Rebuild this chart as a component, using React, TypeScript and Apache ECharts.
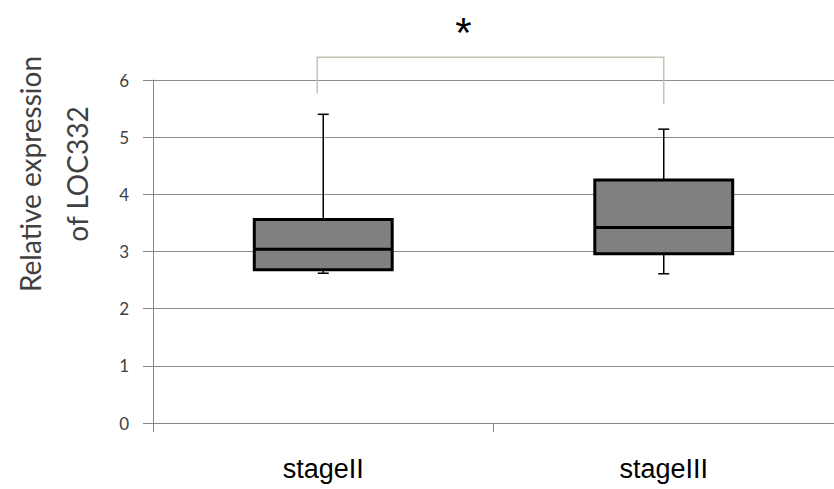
import React, { useEffect, useRef } from "react";
import * as echarts from "echarts";

const categories = ["stageII", "stageIII"];
// [min, Q1, median, Q3, max]
const boxValues = [
  [2.62, 2.68, 3.04, 3.56, 5.4],
  [2.61, 2.96, 3.42, 4.25, 5.14],
];
const yTicks = [0, 1, 2, 3, 4, 5, 6];
const yTitle = "Relative expression\nof LOC332";
const sigLabel = "*";
// significance bracket: top value, left leg bottom, right leg bottom
const bracketTop = 6.4;
const bracketLeftBottom = 5.77;
const bracketRightBottom = 5.58;

export default function App() {
  const ref = useRef<HTMLDivElement>(null);
  useEffect(() => {
    if (!ref.current) return;
    const chart = echarts.init(ref.current, null, { renderer: "svg" });
    const data = boxValues.map((b, i) => [i, ...b]);
    chart.setOption({
      animation: false,
      backgroundColor: "#ffffff",
      grid: { left: 153, right: 0, top: 80, bottom: 66, containLabel: false },
      xAxis: {
        type: "category",
        data: categories,
        boundaryGap: true,
        axisLine: { show: true, lineStyle: { color: "#868686", width: 1 } },
        axisTick: { show: true, length: 9, lineStyle: { color: "#868686" } },
        axisLabel: {
          margin: 32,
          fontSize: 27,
          color: "#000000",
          fontFamily: "Liberation Sans, Arial, sans-serif",
        },
        splitLine: { show: false },
      },
      yAxis: {
        type: "value",
        min: yTicks[0],
        max: yTicks[yTicks.length - 1],
        interval: 1,
        axisLine: { show: true, lineStyle: { color: "#868686", width: 1 } },
        axisTick: { show: true, length: 10, lineStyle: { color: "#868686" } },
        axisLabel: {
          margin: 24,
          fontSize: 17,
          color: "#404040",
          fontFamily: "Lato, sans-serif",
        },
        splitLine: { show: true, lineStyle: { color: "#8c8c8c", width: 1 } },
      },
      series: [
        {
          type: "custom",
          data,
          clip: false,
          renderItem: (params: any, api: any) => {
            const idx = api.value(0);
            const vals = [1, 2, 3, 4, 5].map((d) => api.value(d));
            const band = api.size([1, 0])[0];
            const bw = band * 0.405;
            const capW = 11;
            const [cx, yMin] = api.coord([idx, vals[0]]);
            const yQ1 = api.coord([idx, vals[1]])[1];
            const yMed = api.coord([idx, vals[2]])[1];
            const yQ3 = api.coord([idx, vals[3]])[1];
            const yMax = api.coord([idx, vals[4]])[1];
            const thin = { stroke: "#000000", lineWidth: 1.5 };
            return {
              type: "group",
              children: [
                { type: "line", shape: { x1: cx, y1: yMax, x2: cx, y2: yQ3 }, style: thin },
                { type: "line", shape: { x1: cx, y1: yQ1, x2: cx, y2: yMin }, style: thin },
                { type: "line", shape: { x1: cx - capW / 2, y1: yMax, x2: cx + capW / 2, y2: yMax }, style: thin },
                { type: "line", shape: { x1: cx - capW / 2, y1: yMin, x2: cx + capW / 2, y2: yMin }, style: thin },
                {
                  type: "rect",
                  shape: { x: cx - bw / 2, y: yQ3, width: bw, height: yQ1 - yQ3 },
                  style: { fill: "#808080", stroke: "#000000", lineWidth: 3 },
                },
                {
                  type: "line",
                  shape: { x1: cx - bw / 2, y1: yMed, x2: cx + bw / 2, y2: yMed },
                  style: { stroke: "#000000", lineWidth: 3 },
                },
              ],
            };
          },
        },
      ],
    });

    const pTopL = chart.convertToPixel({ gridIndex: 0 }, [0, bracketTop]);
    const pTopR = chart.convertToPixel({ gridIndex: 0 }, [1, bracketTop]);
    const pBotL = chart.convertToPixel({ gridIndex: 0 }, [0, bracketLeftBottom]);
    const pBotR = chart.convertToPixel({ gridIndex: 0 }, [1, bracketRightBottom]);
    const xl = pTopL[0] - 6;
    const xr = pTopR[0];
    const bracketStyle = { stroke: "#c4c4b0", lineWidth: 1.5, fill: "none" };
    chart.setOption({
      graphic: [
        {
          type: "polyline",
          shape: {
            points: [
              [xl, pBotL[1]],
              [xl, pTopL[1]],
              [xr, pTopR[1]],
              [xr, pBotR[1]],
            ],
          },
          style: bracketStyle,
        },
        {
          type: "text",
          x: (xl + xr) / 2 - 27,
          y: 11,
          style: {
            text: sigLabel,
            font: "42px Liberation Sans, Arial, sans-serif",
            fill: "#000000",
            align: "center",
            verticalAlign: "top",
          },
        },
        {
          type: "text",
          x: 53,
          y: 174,
          rotation: Math.PI / 2,
          style: {
            text: yTitle,
            font: "28px Lato, sans-serif",
            fill: "#404040",
            align: "center",
            verticalAlign: "middle",
            lineHeight: 47,
          },
        },
      ],
    });
    return () => chart.dispose();
  }, []);
  return (
    <div
      ref={ref}
      style={{ position: "fixed", left: 0, top: 0, width: 834, height: 489 }}
    />
  );
}
